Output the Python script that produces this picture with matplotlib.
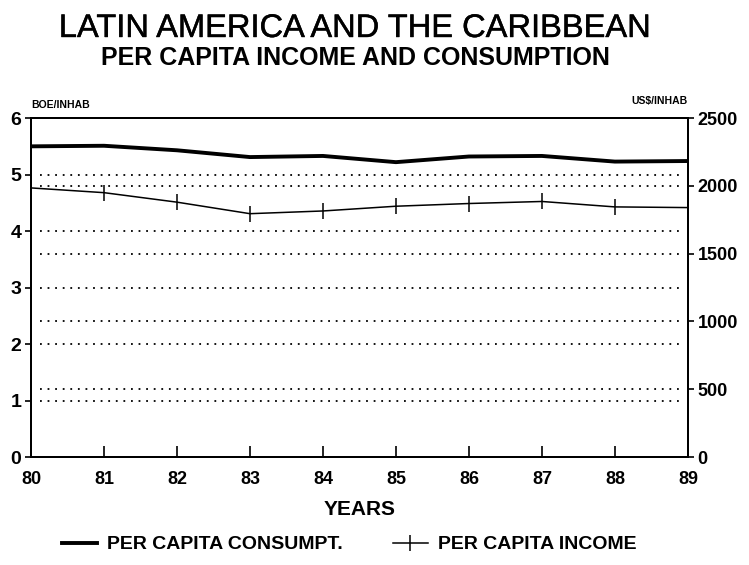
import matplotlib
matplotlib.use("Agg")
import matplotlib.pyplot as plt
from matplotlib.lines import Line2D
import matplotlib.patheffects as pe

years = [80, 81, 82, 83, 84, 85, 86, 87, 88, 89]
year_labels = ["80", "81", "82", "83", "84", "85", "86", "87", "88", "89"]
consumption_boe = [5.50, 5.51, 5.43, 5.31, 5.33, 5.22, 5.32, 5.33, 5.23, 5.24]
income_usd = [1985, 1950, 1880, 1795, 1815, 1850, 1870, 1885, 1845, 1840]
left_ticks = [0, 1, 2, 3, 4, 5, 6]
right_ticks = [0, 500, 1000, 1500, 2000, 2500]

plt.rcParams['font.family'] = ['Liberation Sans', 'DejaVu Sans']

fig = plt.figure(figsize=(7.49, 5.65), dpi=100)
ax = fig.add_axes([0.0414, 0.191, 0.877, 0.600])
ax2 = ax.twinx()

ax.set_xlim(80, 89)
ax.set_ylim(0, 6)
ax2.set_ylim(0, 2500)

for v in left_ticks[1:-1]:
    ax.axhline(v, xmin=0.013, xmax=0.99, color='black', lw=1.3, ls=(0, (1, 3.2)), zorder=1)
for v in right_ticks[1:-1]:
    ax2.axhline(v, xmin=0.013, xmax=0.99, color='black', lw=1.3, ls=(0, (1, 3.2)), zorder=1)

ax.plot(years, consumption_boe, color='black', lw=2.8, solid_capstyle='butt', zorder=3)
ax2.plot(years, income_usd, color='black', lw=1.1, marker='|', markersize=11,
         markeredgewidth=1.1, zorder=3, clip_on=False)

for a in (ax, ax2):
    for s in a.spines.values():
        s.set_linewidth(1.4)

ax.set_xticks(years)
ax.set_xticklabels(year_labels, fontsize=13, fontweight='bold')
ax.tick_params(axis='x', direction='in', length=8, width=1.2, pad=10)
ax.set_yticks(left_ticks)
ax.set_yticklabels([str(v) for v in left_ticks], fontsize=14, fontweight='bold')
ax.tick_params(axis='y', direction='out', length=4, width=1.2, pad=3)
ax2.set_yticks(right_ticks)
ax2.set_yticklabels([str(v) for v in right_ticks], fontsize=13, fontweight='bold')
ax2.tick_params(axis='y', direction='out', length=4, width=1.2, pad=3)

ax.text(0.0, 1.025, "BOE/INHAB", transform=ax.transAxes, fontsize=7.5,
        fontweight='bold', ha='left', va='bottom')
ax2.text(1.0, 1.035, "US$/INHAB", transform=ax.transAxes, fontsize=7.5,
         fontweight='bold', ha='right', va='bottom')

ax.set_xlabel("YEARS", fontsize=15, fontweight='bold', labelpad=9)

fig.text(0.4733, 1 - 37 / 565, "LATIN AMERICA AND THE CARIBBEAN", fontsize=23.5,
         ha='center', va='baseline',
         path_effects=[pe.withStroke(linewidth=0.3, foreground='black')])
fig.text(0.475, 1 - 65 / 565, "PER CAPITA INCOME AND CONSUMPTION", fontsize=18,
         fontweight='bold', ha='center', va='baseline')

handles = [Line2D([], [], color='black', lw=2.8),
           Line2D([], [], color='black', lw=1.1, marker='|', markersize=11, markeredgewidth=1.1)]
fig.legend(handles, ["PER CAPITA CONSUMPT.", "PER CAPITA INCOME"], loc='center',
           bbox_to_anchor=(0.466, 0.036), ncol=2, frameon=False,
           handlelength=1.8, handletextpad=0.5, columnspacing=2.6,
           prop={'family': ['Liberation Sans'], 'size': 14, 'weight': 'bold'})

fig.savefig("out.png", dpi=100)
